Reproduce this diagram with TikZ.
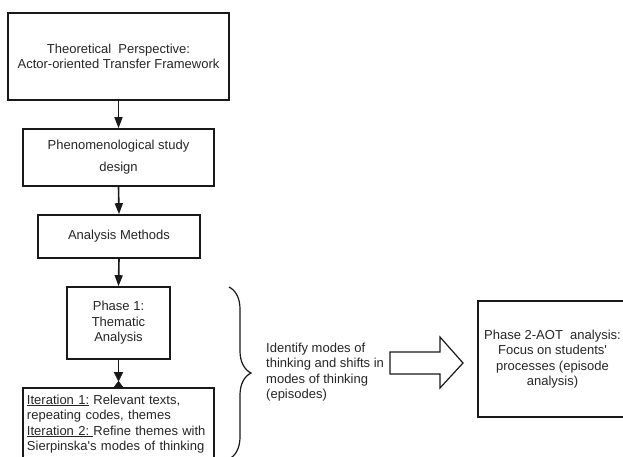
\documentclass[tikz,border=0pt]{standalone}
\usepackage{fontspec}
\setmainfont{Liberation Sans}
\usetikzlibrary{arrows.meta,decorations.pathreplacing}
\begin{document}
\begin{tikzpicture}[x=1pt,y=-1pt,
  every node/.style={font=\fontsize{13}{15.5}\selectfont, text=black!85},
  box/.style={draw=black!90, line width=1.6pt, inner sep=0pt, align=center},
  conn/.style={line width=1.6pt, draw=black!90, -{Triangle[width=8pt,length=11pt]}},
  tipfill/.style={fill=black!90, draw=black!90, line width=0.4pt}
]
\clip (0,0) rectangle (623,457);
\fill[white] (0,0) rectangle (623,457);

\node[box, minimum width=221pt, minimum height=87pt] (b1) at (118.5,56.5)
  {Theoretical\ \ Perspective:\\Actor-oriented Transfer Framework};
\node[box, minimum width=191.5pt, minimum height=57pt] (b2) at (118.5,157.5)
  {Phenomenological study\\[6.5pt]design};
\node[box, minimum width=162pt, minimum height=43pt] (b3) at (119,236.5)
  {Analysis Methods};
\node[box, minimum width=103pt, minimum height=72pt] (b4) at (118.5,323)
  {Phase 1:\\Thematic\\Analysis};
\node[box, minimum width=191pt, minimum height=72pt, text width=183pt, align=left, inner xsep=4pt] (b5) at (118.5,424)
  {\underline{Iteration 1:} Relevant texts,\\repeating codes, themes\\\underline{Iteration 2:\ }Refine themes with\\Sierpinska\textquotesingle s modes of thinking};
\node[box, minimum width=149pt, minimum height=116pt] (b6) at (552.5,359)
  {Phase 2-AOT\ \ analysis:\\Focus on students\textquotesingle\\processes (episode\\analysis)};

\draw[conn] (b1.south) -- (b2.north);
\draw[conn] (b2.south) -- (b3.north);
\draw[conn] (b3.south) -- (b4.north);
% connector with bow-tie end
\draw[line width=1.6pt, draw=black!90, shorten >=6pt] (b4.south) -- (b5.north);
\fill[tipfill] ([xshift=-4.5pt,yshift=15pt]b5.north) -- ([xshift=4.5pt,yshift=15pt]b5.north) -- ([yshift=6pt]b5.north) -- cycle;
\fill[tipfill] ([xshift=-4.5pt]b5.north) -- ([xshift=4.5pt]b5.north) -- ([yshift=6pt]b5.north) -- cycle;

% brace
\coordinate (brtop) at (229,287);
\coordinate (brbot) at (229,459);
\draw[line width=1.2pt, draw=black!90, decorate, decoration={brace, amplitude=22pt}] (brtop) -- (brbot);

\node[anchor=west, align=left, inner sep=0pt] (id) at (266,372)
  {Identify modes of\\thinking and shifts in\\modes of thinking\\(episodes)};

% block arrow
\coordinate (ba) at (390,363);
\draw[line width=1.2pt, draw=black!90, fill=white]
  (ba) ++(0,-11) -- ++(50,0) -- (440,337) -- (463,363) -- (440,388) -- (440,374) -- (390,374) -- cycle;
\end{tikzpicture}
\end{document}
